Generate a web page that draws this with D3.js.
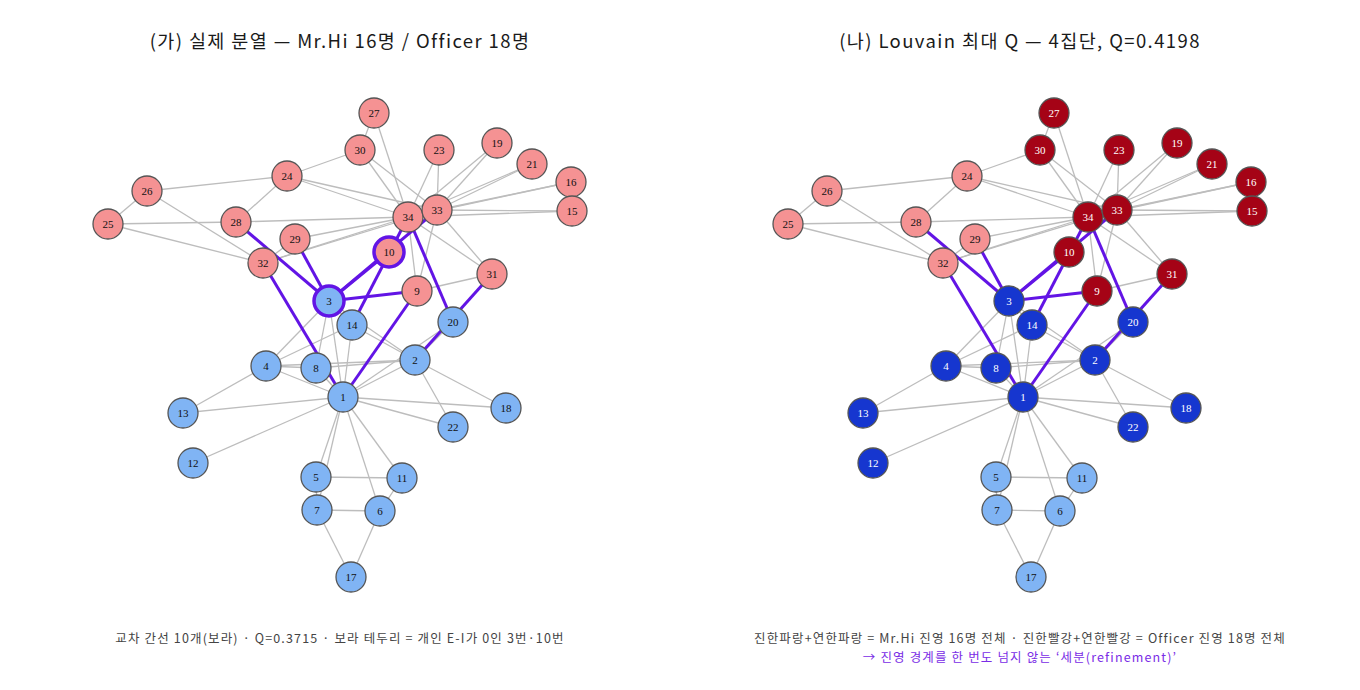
<!DOCTYPE html>
<html><head><meta charset="utf-8">
<script src="https://cdn.jsdelivr.net/npm/d3@7/dist/d3.min.js"></script>
<style>
html,body{margin:0;padding:0;background:#fff;}
svg{display:block;}
</style></head>
<body>
<svg id="chart" width="1360" height="690"></svg>
<script>
// ---------- data ----------
// node ids in drawing order (later = on top)
const nodeIds = [1,2,3,4,5,6,7,8,9,10,11,12,13,14,16,15,17,18,19,20,21,22,23,24,25,26,27,28,29,30,31,32,34,33];
// layout coordinates (layout units) for nodes 1..34
const layoutX = [343,415,329,266,316,380,317,316,417,389,402,193,183,352,572,571,351,506,497,453,532,453,439,287,108,147,374,236,295,360,492,263,437,408];
const layoutY = [397,360,301,366,477,511,510,368,291,252,478,463,413,325,211,182,577,408,143,322,164,427,150,176,224,191,113,222,239,150,274,263,210,217];
const edges = [
 [1,2],[1,3],[1,4],[1,5],[1,6],[1,7],[1,8],[1,9],[1,11],[1,12],[1,13],[1,14],[1,18],[1,20],[1,22],[1,32],
 [2,3],[2,4],[2,8],[2,14],[2,18],[2,20],[2,22],[2,31],
 [3,4],[3,8],[3,9],[3,10],[3,14],[3,28],[3,29],[3,33],
 [4,8],[4,13],[4,14],
 [5,7],[5,11],
 [6,7],[6,11],[6,17],
 [7,17],
 [9,31],[9,33],[9,34],
 [10,34],[14,34],[15,33],[15,34],[16,33],[16,34],[19,33],[19,34],[20,34],[21,33],[21,34],[23,33],[23,34],
 [24,26],[24,28],[24,30],[24,33],[24,34],
 [25,26],[25,28],[25,32],
 [26,32],[27,30],[27,34],[28,34],[29,32],[29,34],[30,33],[30,34],[31,33],[31,34],[32,33],[32,34],[33,34]
];
const mrHi = [1,2,3,4,5,6,7,8,11,12,13,14,17,18,20,22];
const louvain = [1,1,1,1,2,2,2,1,3,3,2,1,1,1,3,3,2,1,3,1,3,1,3,4,4,4,3,4,4,3,3,4,3,3];
const highlighted = [3,10];
const titles = ["(가) 실제 분열 — Mr.Hi 16명 / Officer 18명", "(나) Louvain 최대 Q — 4집단, Q=0.4198"];
const captionsLeft = ["교차 간선 10개(보라) · Q=0.3715 · 보라 테두리 = 개인 E-I가 0인 3번·10번"];
const captionsRight = ["진한파랑+연한파랑 = Mr.Hi 진영 16명 전체 · 진한빨강+연한빨강 = Officer 진영 18명 전체",
                       "→ 진영 경계를 한 번도 넘지 않는 ‘세분(refinement)’"];
</script>
<script>
const svg = d3.select("#chart");
const faction = id => mrHi.includes(id) ? "hi" : "off";
const factionFill = {hi:"#80B4F4", off:"#F59293"};
const louvainFill = {1:"#1636CF", 2:"#80B4F4", 3:"#A50316", 4:"#F59293"};
const louvainText = {1:"#fff", 2:"#111", 3:"#fff", 4:"#111"};
const purple = "#6214E5";
const sans = "'Noto Sans CJK KR','Noto Sans',sans-serif";

const panels = [
  {offset:0, title:titles[0], fill:id=>factionFill[faction(id)], text:()=>"#111", hl:true, caps:captionsLeft, capColors:["#444"]},
  {offset:680, title:titles[1], fill:id=>louvainFill[louvain[id-1]], text:id=>louvainText[louvain[id-1]], hl:false, caps:captionsRight, capColors:["#444","#7A2CE6"]}
];

panels.forEach(p => {
  const x = d3.scaleLinear().domain([0,680]).range([p.offset, p.offset+680]);
  const y = d3.scaleLinear().domain([0,690]).range([0,690]);
  const g = svg.append("g");
  const px = id => x(layoutX[id-1]);
  const py = id => y(layoutY[id-1]);
  const cross = e => faction(e[0]) !== faction(e[1]);

  g.append("text").attr("x", x(340)).attr("y", 48).attr("text-anchor","middle")
    .attr("font-family",sans).attr("font-size",18.5).attr("letter-spacing",1.4)
    .attr("fill","#1a1a1a").text(p.title);

  g.append("g").selectAll("line").data(edges.filter(e=>!cross(e))).join("line")
    .attr("x1",e=>px(e[0])).attr("y1",e=>py(e[0])).attr("x2",e=>px(e[1])).attr("y2",e=>py(e[1]))
    .attr("stroke","#BDBDBD").attr("stroke-width",1.3);
  g.append("g").selectAll("line").data(edges.filter(cross)).join("line")
    .attr("x1",e=>px(e[0])).attr("y1",e=>py(e[0])).attr("x2",e=>px(e[1])).attr("y2",e=>py(e[1]))
    .attr("stroke",purple).attr("stroke-width",3);

  const nodes = g.append("g").selectAll("g").data(nodeIds).join("g")
    .attr("transform", id=>`translate(${px(id)},${py(id)})`);
  nodes.append("circle").attr("r",15)
    .attr("fill", id=>p.fill(id))
    .attr("stroke", id=> p.hl && highlighted.includes(id) ? purple : "#555")
    .attr("stroke-width", id=> p.hl && highlighted.includes(id) ? 3.5 : 1.3);
  nodes.append("text").attr("text-anchor","middle").attr("dy","0.35em")
    .attr("font-family","'Liberation Serif','DejaVu Serif',serif").attr("font-size",11)
    .attr("fill", id=>p.text(id)).text(id=>id);

  p.caps.forEach((c,i) => {
    g.append("text").attr("x", x(340)).attr("y", 643 + i*19).attr("text-anchor","middle")
      .attr("font-family",sans).attr("font-size",12.5).attr("letter-spacing",1.15)
      .attr("fill", p.capColors[i]).text(c);
  });
});
</script>
</body></html>
